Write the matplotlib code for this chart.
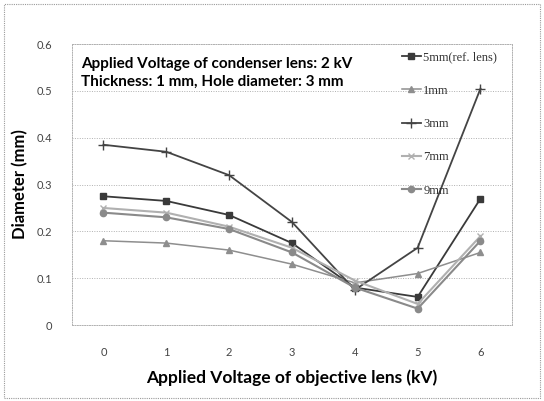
import matplotlib
matplotlib.use('Agg')
import matplotlib.pyplot as plt
from matplotlib.patches import Rectangle

# data
voltage = [0, 1, 2, 3, 4, 5, 6]
d_5mm = [0.275, 0.265, 0.235, 0.175, 0.080, 0.060, 0.270]
d_1mm = [0.180, 0.175, 0.160, 0.130, 0.090, 0.110, 0.155]
d_3mm = [0.385, 0.370, 0.320, 0.220, 0.075, 0.165, 0.505]
d_7mm = [0.250, 0.240, 0.210, 0.165, 0.095, 0.045, 0.190]
d_9mm = [0.240, 0.230, 0.205, 0.155, 0.080, 0.035, 0.180]
series_labels = ['5mm(ref. lens)', '1mm', '3mm', '7mm', '9mm']
y_ticks = [0, 0.1, 0.2, 0.3, 0.4, 0.5, 0.6]
y_tick_labels = ['0', '0.1', '0.2', '0.3', '0.4', '0.5', '0.6']

plt.rcParams['font.family'] = ['Lato', 'DejaVu Sans']

fig = plt.figure(figsize=(5.44, 4.01), dpi=100)
ax = fig.add_axes([0.1324, 0.1895, 0.8086, 0.7005])

# outer chart border
fig.patches.append(Rectangle((0.008, 0.008), 0.984, 0.982, transform=fig.transFigure,
                             fill=False, ec='#9a9a9a', lw=0.8, ls=(0, (1, 1))))

ax.plot(voltage, d_5mm, color='#3a3a3a', lw=1.3, marker='s', ms=4.5, label=series_labels[0])
ax.plot(voltage, d_1mm, color='#8e8e8e', lw=1.1, marker='^', ms=4.5, label=series_labels[1])
ax.plot(voltage, d_3mm, color='#444444', lw=1.3, marker='+', ms=7, label=series_labels[2])
ax.plot(voltage, d_7mm, color='#b0b0b0', lw=1.5, marker='x', ms=4.5, label=series_labels[3])
ax.plot(voltage, d_9mm, color='#8a8a8a', lw=1.5, marker='o', ms=4.5, label=series_labels[4])

ax.set_xlim(-0.5, 6.5)
ax.set_ylim(0, 0.6)
ax.set_xticks(voltage)
ax.set_yticks(y_ticks)
ax.set_yticklabels(y_tick_labels)
ax.tick_params(length=0, labelsize=8, labelcolor='#444444')
ax.tick_params(axis='x', pad=16)
ax.tick_params(axis='y', pad=14)
ax.grid(axis='y', color='#b0b0b0', lw=0.7, ls=(0, (1, 1.5)))
for s in ax.spines.values():
    s.set_color('#b0b0b0')
    s.set_linewidth(0.7)
    s.set_linestyle((0, (1, 1.5)))

ax.set_xlabel('Applied Voltage of objective lens (kV)', fontsize=12.5, fontweight='bold', labelpad=8)
ax.set_ylabel('Diameter (mm)', fontsize=12, fontweight='bold', labelpad=6)

ax.text(0.02, 0.955, 'Applied Voltage of condenser lens: 2 kV\nThickness: 1 mm, Hole diameter: 3 mm',
        transform=ax.transAxes, fontsize=11, fontweight='bold', va='top', ha='left', linespacing=1.35)

leg = ax.legend(loc='upper left', bbox_to_anchor=(0.733, 1.0), frameon=False,
                prop={'family': 'Liberation Serif', 'size': 9},
                handlelength=1.5, handletextpad=0.2, labelspacing=1.7, borderaxespad=0.2)
for t in leg.get_texts():
    t.set_color('#333333')

fig.savefig('out.png', dpi=100)
